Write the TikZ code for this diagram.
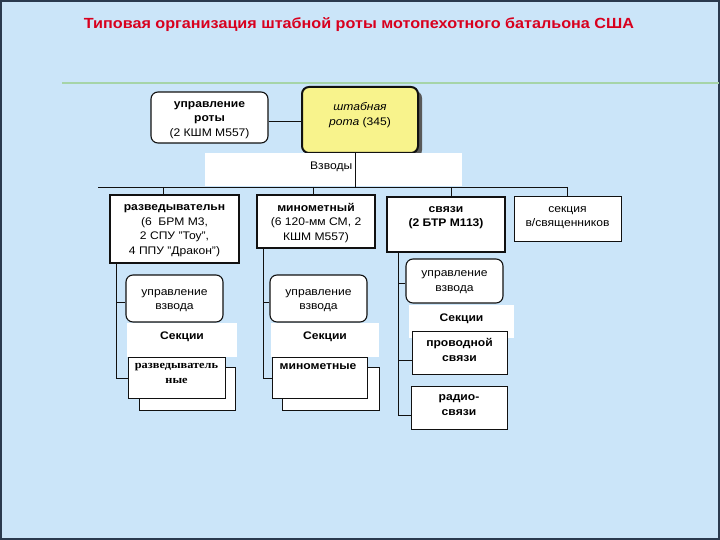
\documentclass[tikz,border=0pt]{standalone}
\usepackage{fontspec}
\setmainfont{Liberation Sans}[FakeStretch=1.1]
\newfontfamily\serifru{Liberation Serif}[FakeStretch=1.12]
\definecolor{bg}{HTML}{CBE5F9}
\definecolor{frame}{HTML}{2A3A4E}
\definecolor{titlered}{HTML}{D8001E}
\definecolor{yel}{HTML}{F8F38C}
\definecolor{grn}{HTML}{A6D4A8}
\definecolor{ink}{HTML}{111111}
\tikzset{
  conn/.style={draw=ink, line width=0.9pt},
  rbox/.style={draw=ink, fill=white, rounded corners=7pt, line width=1.1pt, inner sep=0pt},
  thickbox/.style={draw=ink, fill=white, line width=1.9pt, inner sep=0pt},
  thinbox/.style={draw=ink, fill=white, line width=1pt, inner sep=0pt},
  plain/.style={fill=white, draw=none, inner sep=0pt},
  txt/.style={align=center, inner sep=0pt, font=\fontsize{11}{14.5}\selectfont},
  btxt/.style={align=center, inner sep=0pt, font=\bfseries\fontsize{11}{14.5}\selectfont},
}
\begin{document}
\begin{tikzpicture}[x=1pt,y=-1pt]
\useasboundingbox (0,0) rectangle (720,540);
\fill[bg] (0,0) rectangle (720,540);
\draw[frame, line width=1.6pt] (0.8,0.8) rectangle (719.2,539.2);
\draw[grn, line width=1.6pt] (62,83) -- (719,83);

% title
\node[font=\bfseries\fontsize{14.7}{17}\selectfont, text=titlered, inner sep=0pt] (title) at (359,25)
  {Типовая организация штабной роты мотопехотного батальона США};

% top level
\node[rbox, minimum width=117pt, minimum height=51pt] (urota) at (209.5,117.5) {};
\node[txt] (urotat) at (209.5,120) {\textbf{управление}\\\textbf{роты}\\(2 КШМ М557)};
\fill[black!65, rounded corners=7pt] (306,91) rectangle (422,157);
\node[rbox, fill=yel, line width=2pt, minimum width=116pt, minimum height=66pt] (hq) at (360,120) {};
\node[txt] (hqt) at (360,115) {\textit{штабная}\\\textit{рота} (345)};
\draw[conn] (urota.east |- 0,121) -- (hq.west |- 0,121);

\node[plain, minimum width=257pt, minimum height=33pt] (vzv) at (333.5,170) {};
\node[txt, anchor=east] (vzvt) at (352.5,167) {Взводы};

\coordinate (hqb) at (355,153);
\coordinate (busc) at (355,187);
\coordinate (busl) at (98,187);
\coordinate (busr) at (567,187);
\draw[conn] (hqb) -- (busc);
\draw[conn] (busl) -- (busr);

% platoons
\node[thickbox, minimum width=129pt, minimum height=68pt] (recon) at (174.5,229) {};
\node[txt] (recont) at (174.5,230.5) {\textbf{разведывательн}\\(6\ \ БРМ М3,\\2 СПУ "Тоу",\\4 ППУ "Дракон")};
\node[thickbox, minimum width=118pt, minimum height=53pt] (mort) at (316,221.5) {};
\node[txt] (mortt) at (316,223) {\textbf{минометный}\\(6 120-мм СМ, 2\\КШМ М557)};
\node[thickbox, minimum width=118pt, minimum height=55pt] (sig) at (446,224.5) {};
\node[btxt] (sigt) at (446,217.5) {связи\\(2 БТР М113)};
\node[thinbox, minimum width=107pt, minimum height=44pt] (chap) at (567.5,219) {};
\node[txt] (chapt) at (567.5,217.5) {секция\\в/священников};

\draw[conn] (163,187) -- (recon.north -| 163,0);
\draw[conn] (313,187) -- (mort.north -| 313,0);
\draw[conn] (451,187) -- (sig.north -| 451,0);
\draw[conn] (busr) -- (chap.north -| busr);

% recon sub
\node[rbox, minimum width=97pt, minimum height=47pt] (ru) at (174.5,298.5) {};
\node[txt] (rut) at (174.5,300.5) {управление\\взвода};
\node[plain, minimum width=110pt, minimum height=34pt] (rs) at (182,340) {};
\node[btxt] (rst) at (182,336.5) {Секции};
\node[thinbox, minimum width=96pt, minimum height=43pt] (rb2) at (187,388.5) {};
\node[thinbox, minimum width=97pt, minimum height=41pt] (rb1) at (176.5,377.5) {};
\node[align=center, inner sep=0pt, font=\serifru\bfseries\fontsize{11}{15}\selectfont, anchor=north] (rb1t) at (176.5,363)
  {разведыватель\\ные};
\coordinate (rv0) at (116,263);
\coordinate (rv1) at (116,378);
\draw[conn] (rv0) -- (rv1) -- (rb1.west |- rv1);
\draw[conn] (116,302) -- (ru.west |- 0,302);

% mortar sub
\node[rbox, minimum width=97pt, minimum height=47pt] (mu) at (318.5,298.5) {};
\node[txt] (mut) at (318.5,300.5) {управление\\взвода};
\node[plain, minimum width=108pt, minimum height=34pt] (ms) at (325,340) {};
\node[btxt] (mst) at (325,336.5) {Секции};
\node[thinbox, minimum width=97pt, minimum height=43pt] (mb2) at (330.5,388.5) {};
\node[thinbox, minimum width=95pt, minimum height=41pt] (mb1) at (319.5,377.5) {};
\node[btxt, anchor=north] (mb1t) at (318,363) {минометные};
\coordinate (mv0) at (263,248);
\coordinate (mv1) at (263,378);
\draw[conn] (mv0) -- (mv1) -- (mb1.west |- mv1);
\draw[conn] (263,302) -- (mu.west |- 0,302);

% signals sub
\node[rbox, minimum width=97pt, minimum height=44pt] (su) at (454.5,281) {};
\node[txt] (sut) at (454.5,282) {управление\\взвода};
\node[plain, minimum width=105pt, minimum height=33pt] (ss) at (461.5,321.5) {};
\node[btxt] (sst) at (461.5,318.5) {Секции};
\node[thinbox, minimum width=95pt, minimum height=43pt] (sp) at (459.5,352.5) {};
\node[align=center, inner sep=0pt, font=\bfseries\fontsize{11}{15.5}\selectfont] (spt) at (459.5,350) {проводной\\связи};
\node[thinbox, minimum width=96pt, minimum height=43pt] (sr) at (459,407.5) {};
\node[btxt] (srt) at (459,405) {радио-\\связи};
\coordinate (sv0) at (398,252);
\coordinate (sv1) at (398,415);
\draw[conn] (sv0) -- (sv1) -- (sr.west |- sv1);
\draw[conn] (398,283) -- (su.west |- 0,283);
\draw[conn] (398,360) -- (sp.west |- 0,360);
\end{tikzpicture}
\end{document}
